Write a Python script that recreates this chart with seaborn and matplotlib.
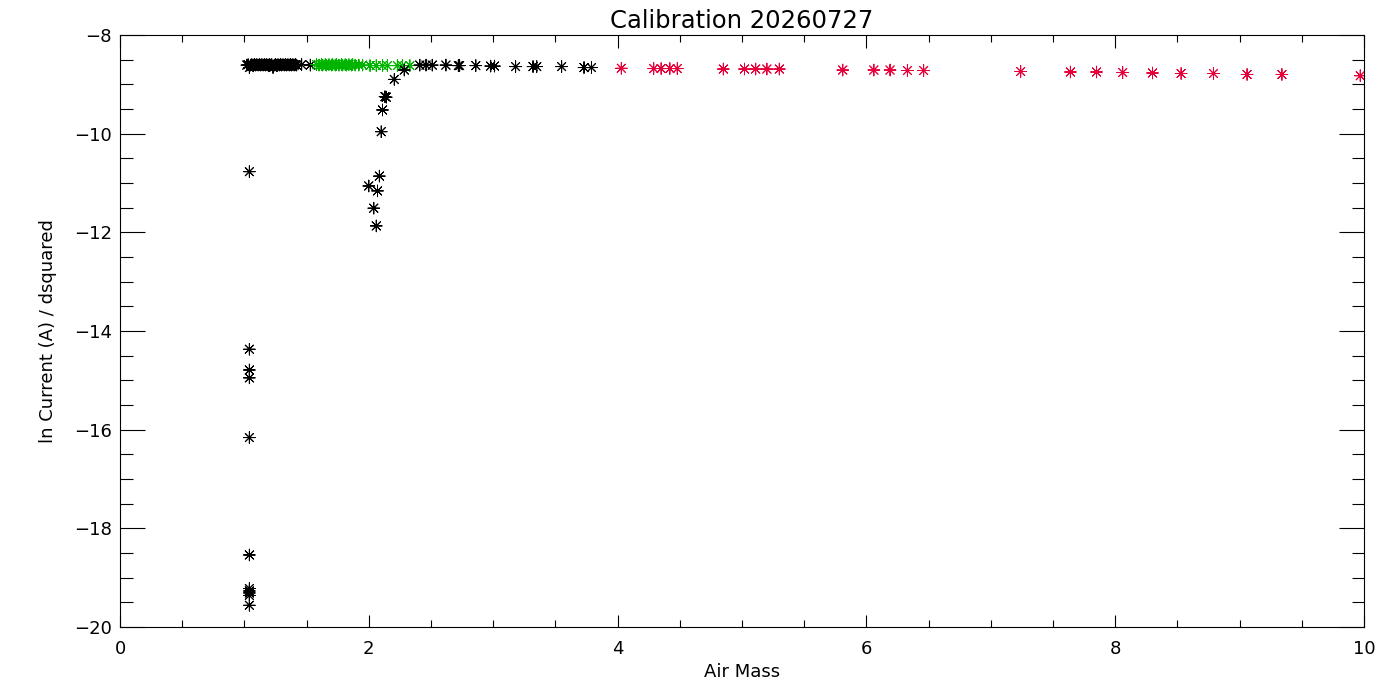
import matplotlib
matplotlib.use("Agg")
import matplotlib.pyplot as plt
import seaborn as sns
import pandas as pd

# top row of black points (airmass near 1)
black_top_x = [1.02, 1.03, 1.04, 1.05, 1.06, 1.07, 1.08, 1.09, 1.10, 1.11, 1.12,
               1.13, 1.14, 1.15, 1.16, 1.17, 1.18, 1.19, 1.20, 1.21, 1.22, 1.23,
               1.24, 1.25, 1.26, 1.27, 1.28, 1.29, 1.30, 1.31, 1.32, 1.33, 1.34,
               1.35, 1.36, 1.37, 1.38, 1.39, 1.40, 1.41, 1.42, 1.46, 1.53]
black_top_y = [-8.61, -8.60, -8.66, -8.61, -8.60, -8.61, -8.60, -8.61, -8.60, -8.61, -8.60,
               -8.61, -8.60, -8.61, -8.60, -8.61, -8.60, -8.61, -8.60, -8.61, -8.60, -8.66,
               -8.61, -8.60, -8.61, -8.60, -8.61, -8.60, -8.61, -8.60, -8.61, -8.60, -8.61,
               -8.60, -8.61, -8.60, -8.61, -8.60, -8.61, -8.60, -8.61, -8.60, -8.61]

# low outliers near airmass 1
black_low_x = [1.04, 1.04, 1.04, 1.04, 1.04, 1.04, 1.04, 1.04, 1.04, 1.04, 1.04]
black_low_y = [-10.77, -14.37, -14.79, -14.95, -16.16, -18.54,
               -19.22, -19.27, -19.31, -19.36, -19.56]

# branch near airmass 2
black_mid_x = [2.00, 2.04, 2.06, 2.07, 2.085, 2.10, 2.11, 2.13, 2.14, 2.205, 2.285]
black_mid_y = [-11.06, -11.51, -11.87, -11.16, -10.86, -9.96, -9.52, -9.25, -9.26, -8.90, -8.71]

# black points after the green run
black_hi_x = [2.41, 2.46, 2.51, 2.62, 2.72, 2.73, 2.86, 2.98, 3.01, 3.18, 3.32,
              3.35, 3.55, 3.73, 3.79]
black_hi_y = [-8.61, -8.61, -8.61, -8.61, -8.62, -8.62, -8.62, -8.63, -8.63, -8.64, -8.64,
              -8.64, -8.64, -8.66, -8.66]

green_x = [1.58, 1.60, 1.62, 1.63, 1.65, 1.66, 1.68, 1.70, 1.71, 1.73, 1.74, 1.76,
           1.78, 1.79, 1.81, 1.82, 1.84, 1.86, 1.87, 1.89, 1.92, 1.95, 2.01, 2.06,
           2.11, 2.15, 2.23, 2.27, 2.33]
green_y = [-8.60, -8.61, -8.60, -8.61, -8.60, -8.61, -8.60, -8.61, -8.60, -8.61, -8.60, -8.61,
           -8.60, -8.61, -8.60, -8.61, -8.60, -8.61, -8.60, -8.61, -8.61, -8.61, -8.62, -8.62,
           -8.62, -8.62, -8.62, -8.62, -8.62]

red_x = [4.03, 4.29, 4.35, 4.42, 4.48, 4.85, 5.02, 5.11, 5.20, 5.30, 5.81, 6.06,
         6.19, 6.33, 6.46, 7.24, 7.64, 7.85, 8.06, 8.30, 8.53, 8.79, 9.06, 9.34, 9.97]
red_y = [-8.675, -8.68, -8.68, -8.68, -8.68, -8.69, -8.69, -8.69, -8.69, -8.69, -8.71, -8.71,
         -8.71, -8.72, -8.72, -8.74, -8.75, -8.75, -8.76, -8.77, -8.78, -8.78, -8.80, -8.80, -8.825]

df = pd.concat([
    pd.DataFrame({"x": black_top_x, "y": black_top_y, "grp": "black"}),
    pd.DataFrame({"x": black_low_x, "y": black_low_y, "grp": "black"}),
    pd.DataFrame({"x": green_x, "y": green_y, "grp": "green"}),
    pd.DataFrame({"x": black_mid_x, "y": black_mid_y, "grp": "black"}),
    pd.DataFrame({"x": black_hi_x, "y": black_hi_y, "grp": "black"}),
    pd.DataFrame({"x": red_x, "y": red_y, "grp": "red"}),
], ignore_index=True)

palette = {"black": "#000000", "green": "#00b400", "red": "#e6003a"}

sns.set_style("ticks")
plt.rcParams["font.family"] = ["DejaVu Sans"]
plt.rcParams["text.color"] = "black"
plt.rcParams["axes.labelcolor"] = "black"

fig = plt.figure(figsize=(14, 7), dpi=100)
ax = fig.add_axes([120 / 1400, 73 / 700, 1244 / 1400, 592 / 700])

sns.scatterplot(data=df, x="x", y="y", hue="grp", palette=palette,
                marker=(8, 2, 0), s=70, linewidth=0.7, legend=False, ax=ax)

ax.set_xlim(0, 10)
ax.set_ylim(-20, -8)
ax.set_xticks([0, 2, 4, 6, 8, 10])
ax.set_xticks([x / 2 for x in range(21)], minor=True)
ax.set_yticks([-20, -18, -16, -14, -12, -10, -8])
ax.set_yticks([-20 + i / 2 for i in range(25)], minor=True)

ax.tick_params(axis="both", which="both", direction="in", top=True, right=True,
               width=0.8, color="black", labelsize=13, labelcolor="black")
ax.tick_params(axis="x", which="major", length=9, pad=9)
ax.tick_params(axis="x", which="minor", length=5)
ax.tick_params(axis="y", which="major", length=18, pad=6)
ax.tick_params(axis="y", which="minor", length=9)
for sp in ax.spines.values():
    sp.set_visible(True)
    sp.set_color("black")
    sp.set_linewidth(0.8)

ax.set_xlabel("Air Mass", fontsize=13, labelpad=4)
ax.set_ylabel("ln Current (A) / dsquared", fontsize=13, labelpad=12)
ax.set_title("Calibration 20260727", fontsize=17.5, pad=5)

fig.savefig("out.png", dpi=100, facecolor="white")
